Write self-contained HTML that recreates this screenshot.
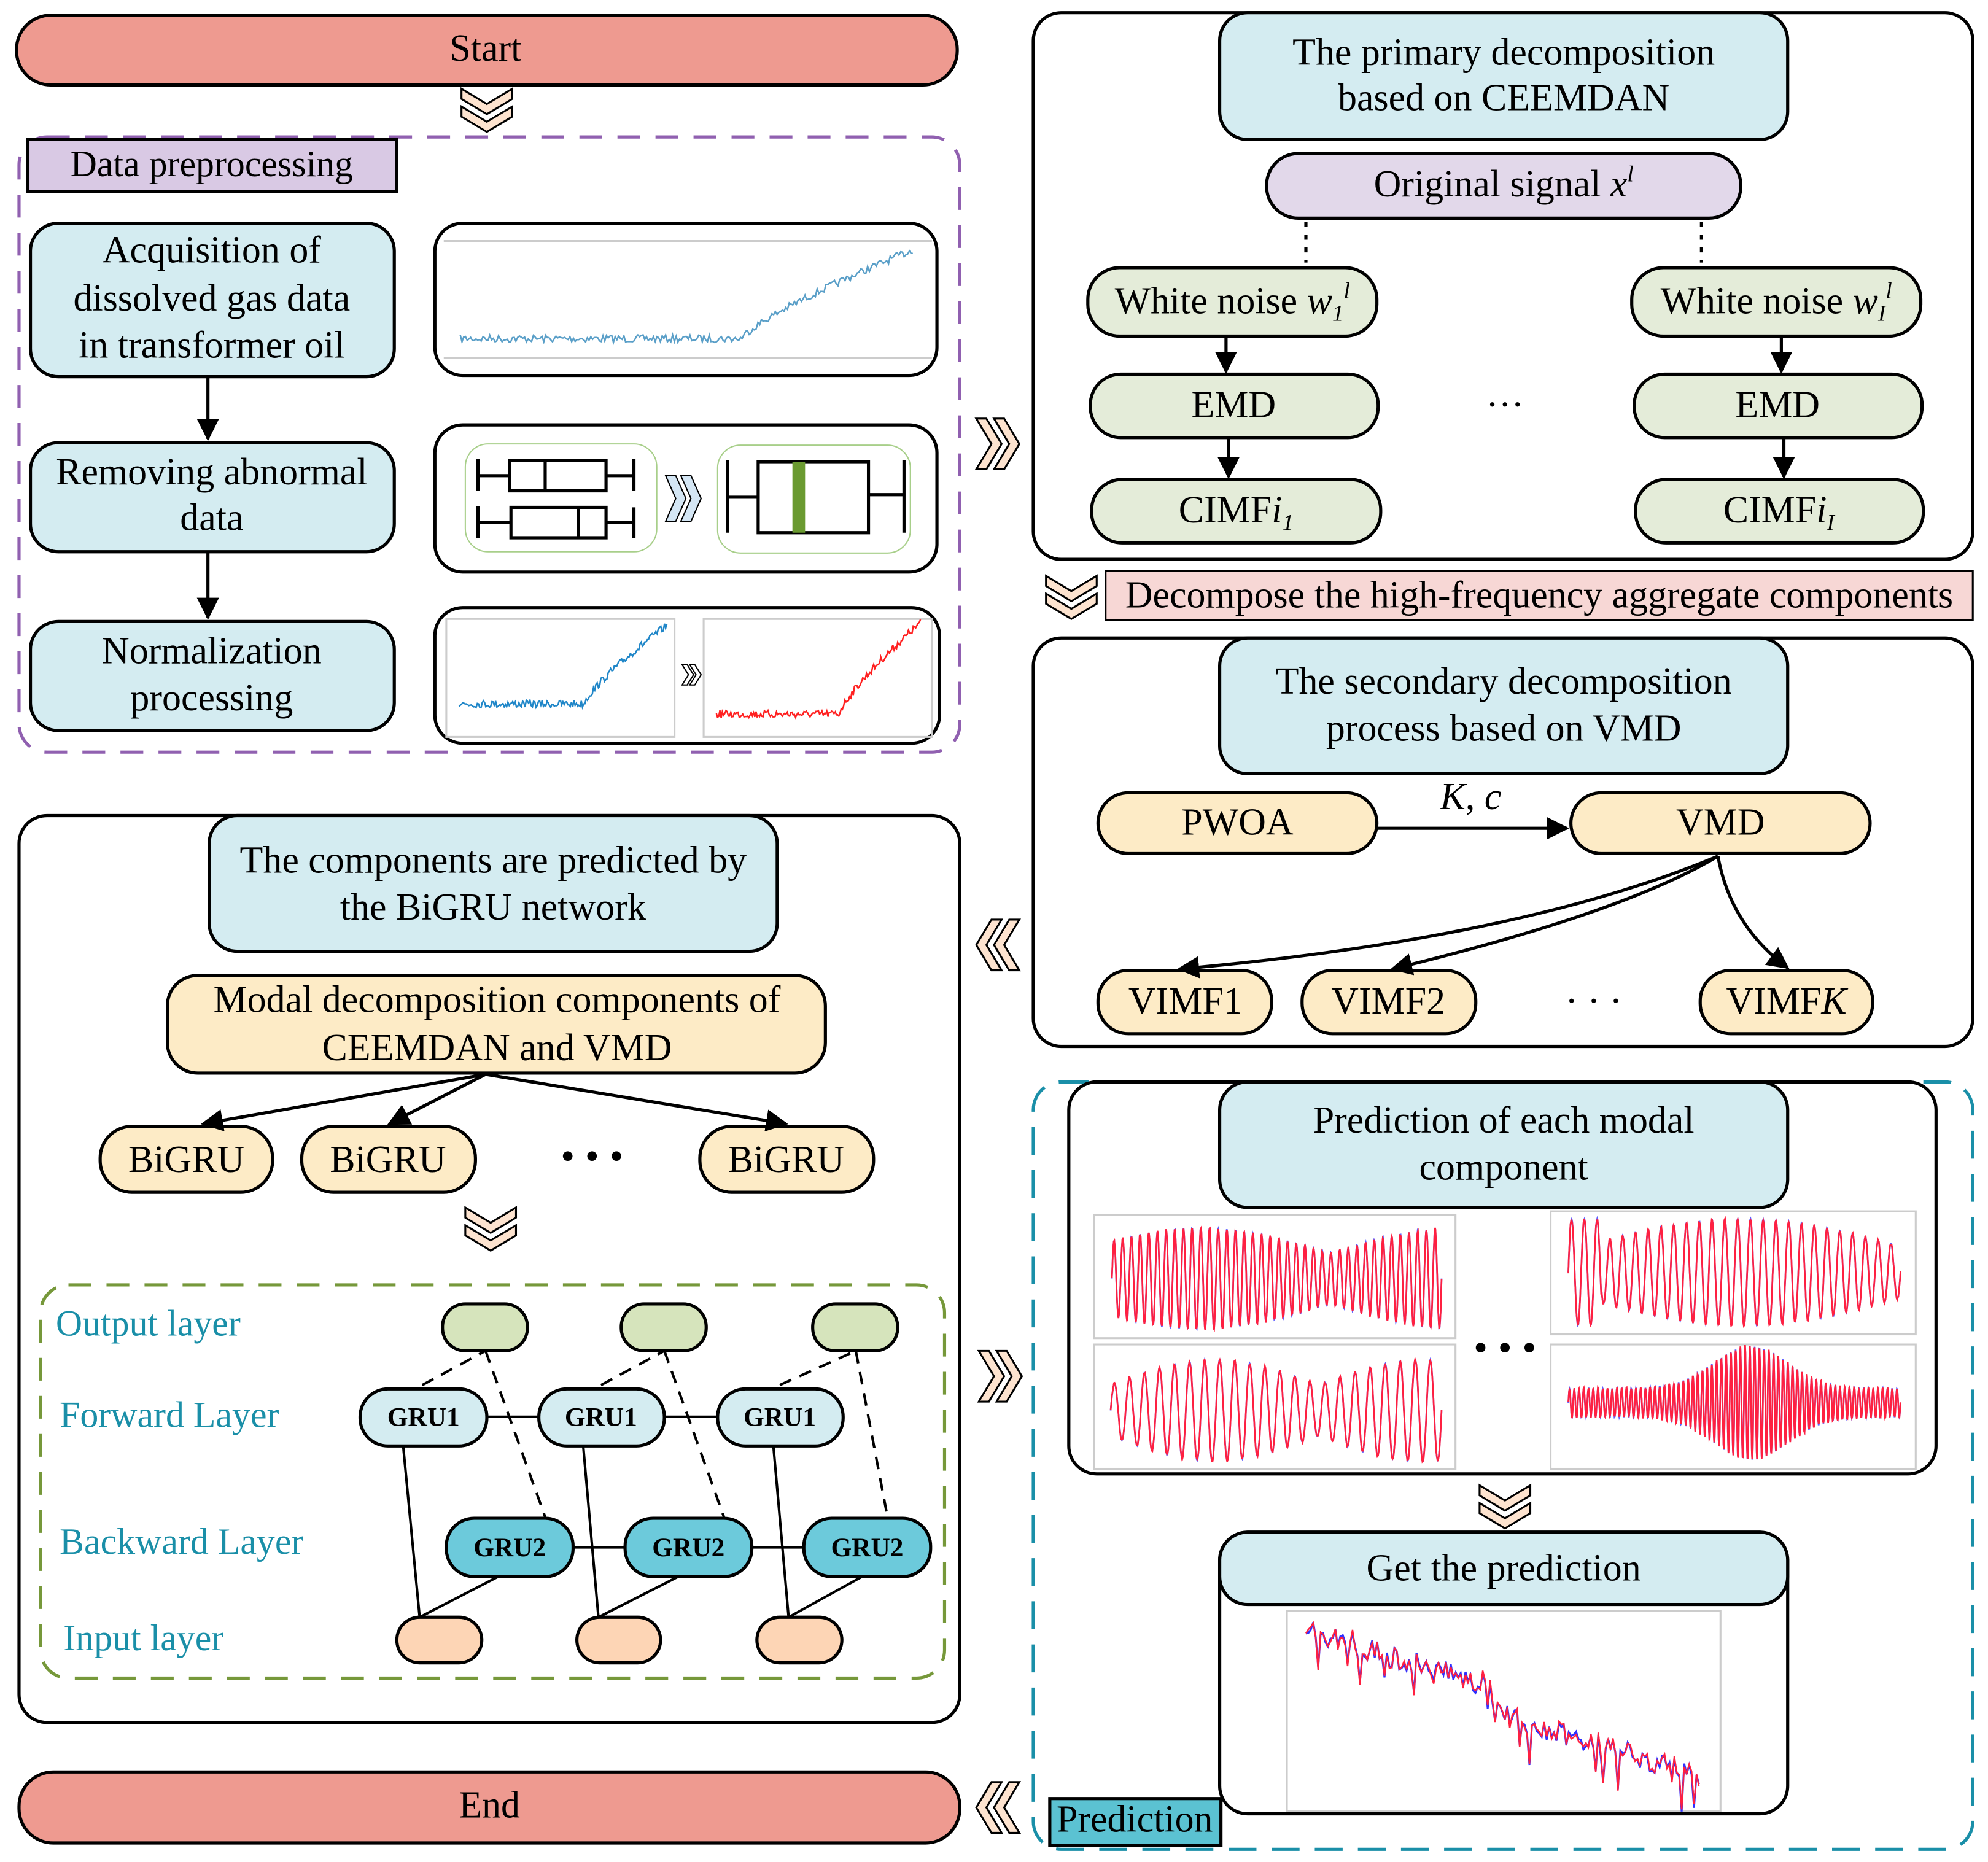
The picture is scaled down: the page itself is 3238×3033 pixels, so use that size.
<!DOCTYPE html>
<html><head><meta charset="utf-8">
<style>
html,body{margin:0;padding:0;background:#fff;}
svg{display:block;}
text{font-family:"Liberation Serif",serif;}
.t{fill:#000;}
.tl{fill:#1a8fa8;}
</style></head>
<body>
<svg id="s" width="3238" height="3033" viewBox="0 0 1568 1468" preserveAspectRatio="none" xmlns="http://www.w3.org/2000/svg">
<defs>
<marker id="ah" viewBox="0 0 10 10" refX="9" refY="5" markerWidth="7" markerHeight="7" orient="auto"><path d="M0,0 L10,5 L0,10 z" fill="#000"/></marker>
<g id="chev"><path d="M-20,-16 L0,-4 L20,-16 L20,-8 L0,4 L-20,-8 z M-20,-2 L0,10 L20,-2 L20,6 L0,18 L-20,6 z" fill="#fde3cf" stroke="#000" stroke-width="1.5"/></g>
<g id="chevR"><path d="M-16,-20 L-4,0 L-16,20 L-8,20 L4,0 L-8,-20 z M-2,-20 L10,0 L-2,20 L6,20 L18,0 L6,-20 z" fill="#fde3cf" stroke="#000" stroke-width="1.5"/></g>
</defs>
<g stroke="#000" stroke-width="2.5">
<rect x="13" y="12" width="742" height="55" rx="27" fill="#ee9a90"/>
<rect x="15" y="108" width="742" height="485" rx="22" fill="none" stroke="#9060b0" stroke-dasharray="18,12"/>
<rect x="22" y="110" width="291" height="41" fill="#d9c9e4"/>
<rect x="24" y="176" width="287" height="121" rx="22" fill="#d4ecf1"/>
<rect x="343" y="176" width="396" height="120" rx="22" fill="#fff"/>
<rect x="24" y="349" width="287" height="86" rx="22" fill="#d4ecf1"/>
<rect x="343" y="335" width="396" height="116" rx="22" fill="#fff"/>
<rect x="24" y="490" width="287" height="86" rx="22" fill="#d4ecf1"/>
<rect x="343" y="479" width="398" height="107" rx="22" fill="#fff"/>
<rect x="815" y="10" width="741" height="431" rx="22" fill="#fff"/>
<rect x="962" y="10" width="448" height="100" rx="22" fill="#d4ecf1"/>
<rect x="999" y="121" width="374" height="51" rx="25" fill="#e2d8ea"/>
<rect x="858" y="211" width="228" height="54" rx="25" fill="#e4ecd9"/>
<rect x="1287" y="211" width="228" height="54" rx="25" fill="#e4ecd9"/>
<rect x="860" y="295" width="227" height="50" rx="24" fill="#e4ecd9"/>
<rect x="1289" y="295" width="227" height="50" rx="24" fill="#e4ecd9"/>
<rect x="861" y="378" width="228" height="50" rx="24" fill="#e4ecd9"/>
<rect x="1290" y="378" width="227" height="50" rx="24" fill="#e4ecd9"/>
<rect x="872" y="450" width="684" height="39" fill="#f7d7d5" stroke-width="1.5"/>
<rect x="815" y="503" width="741" height="322" rx="22" fill="#fff"/>
<rect x="962" y="503" width="448" height="107" rx="22" fill="#d4ecf1"/>
<rect x="866" y="625" width="220" height="48" rx="24" fill="#fdebc6"/>
<rect x="1239" y="625" width="236" height="48" rx="24" fill="#fdebc6"/>
<rect x="866" y="765" width="137" height="50" rx="24" fill="#fdebc6"/>
<rect x="1027" y="765" width="137" height="50" rx="24" fill="#fdebc6"/>
<rect x="1341" y="765" width="136" height="50" rx="24" fill="#fdebc6"/>
<rect x="15" y="643" width="742" height="715" rx="22" fill="#fff"/>
<rect x="165" y="643" width="448" height="107" rx="22" fill="#d4ecf1"/>
<rect x="132" y="769" width="519" height="77" rx="24" fill="#fdebc6"/>
<rect x="79" y="888" width="136" height="52" rx="25" fill="#fdebc6"/>
<rect x="238" y="888" width="137" height="52" rx="25" fill="#fdebc6"/>
<rect x="552" y="888" width="137" height="52" rx="25" fill="#fdebc6"/>
<rect x="32" y="1013" width="713" height="310" rx="22" fill="none" stroke="#76983a" stroke-dasharray="18,12"/>
<rect x="815" y="853" width="741" height="605" rx="22" fill="none" stroke="#1a8fa8" stroke-dasharray="22,12"/>
<rect x="843" y="853" width="684" height="309" rx="22" fill="#fff"/>
<rect x="962" y="853" width="448" height="99" rx="22" fill="#d4ecf1"/>
<rect x="962" y="1208" width="448" height="222" rx="22" fill="#fff"/>
<rect x="962" y="1208" width="448" height="57" rx="22" fill="#d4ecf1"/>
<rect x="828" y="1418" width="135" height="37" fill="#5bc2d2"/>
<rect x="15" y="1397" width="742" height="56" rx="27" fill="#ee9a90"/>
</g>
<g stroke="#000" stroke-width="2.5" fill="none">
<line x1="164" y1="297" x2="164" y2="346" marker-end="url(#ah)"/>
<line x1="164" y1="435" x2="164" y2="487" marker-end="url(#ah)"/>
<line x1="1030" y1="175" x2="1030" y2="207" stroke-dasharray="4,6"/>
<line x1="1342" y1="175" x2="1342" y2="207" stroke-dasharray="4,6"/>
<line x1="967" y1="265" x2="967" y2="293" marker-end="url(#ah)"/>
<line x1="1405" y1="265" x2="1405" y2="293" marker-end="url(#ah)"/>
<line x1="969" y1="345" x2="969" y2="376" marker-end="url(#ah)"/>
<line x1="1407" y1="345" x2="1407" y2="376" marker-end="url(#ah)"/>
<line x1="1086" y1="653" x2="1236" y2="653" marker-end="url(#ah)"/>
<path d="M1355,675 Q1200,740 930,764" marker-end="url(#ah)"/>
<path d="M1355,675 Q1280,720 1098,764" marker-end="url(#ah)"/>
<path d="M1355,675 Q1365,730 1410,763" marker-end="url(#ah)"/>
<line x1="383" y1="847" x2="160" y2="886" marker-end="url(#ah)"/>
<line x1="383" y1="847" x2="307" y2="886" marker-end="url(#ah)"/>
<line x1="383" y1="847" x2="620" y2="886" marker-end="url(#ah)"/>
</g>
<use href="#chev" x="384" y="86"/>
<use href="#chev" x="845" y="470"/>
<use href="#chev" x="387" y="968"/>
<use href="#chev" x="1187" y="1187"/>
<use href="#chevR" x="786" y="350"/>
<use href="#chevR" x="788" y="1085"/>
<g transform="translate(788,745) scale(-1,1)"><use href="#chevR"/></g>
<g transform="translate(788,1425) scale(-1,1)"><use href="#chevR"/></g>
<g stroke="#000" stroke-width="2.5" fill="none">
<rect x="367" y="350" width="151" height="85" rx="18" stroke="#a8cf8a" stroke-width="1"/>
<rect x="566" y="351" width="152" height="85" rx="18" stroke="#a8cf8a" stroke-width="1"/>
<path d="M377,362 V387 M377,375 H402 M402,363 H478 V387 H402 z M430,363 V387 M478,375 H500 M500,362 V387"/>
<path d="M377,399 V424 M377,412 H403 M403,400 H478 V424 H403 z M456,400 V424 M478,412 H500 M500,400 V424"/>
<path d="M574,363 V420 M574,392 H598 M598,364 H685 V420 H598 z M685,390 H713 M713,363 V420"/>
</g>
<rect x="625" y="364" width="10" height="56" fill="#6a9a30"/>
<path d="M525,375 L533,393 L525,411 L533,411 L541,393 L533,375 z M537,375 L545,393 L537,411 L545,411 L553,393 L545,375 z" fill="#d4e6f4" stroke="#000" stroke-width="1"/>
<path d="M538,524 L543,532 L538,540 L542,540 L547,532 L542,524 z M544,524 L549,532 L544,540 L548,540 L553,532 L548,524 z" fill="#fff" stroke="#000" stroke-width="1"/>
<g stroke="#ccc" stroke-width="1.5" fill="none">
<line x1="350" y1="190" x2="735" y2="190"/><line x1="350" y1="282" x2="735" y2="282"/>
<rect x="352" y="488" width="180" height="93"/><rect x="555" y="488" width="180" height="93"/>
<rect x="863" y="958" width="285" height="97"/><rect x="1223" y="955" width="288" height="97"/>
<rect x="863" y="1060" width="285" height="98"/><rect x="1223" y="1060" width="288" height="98"/>
<rect x="1015" y="1270" width="342" height="158"/>
</g>
<g id="plots" fill="none" stroke-width="1.3"></g>
<g stroke="#000" stroke-width="2" fill="none">
<g stroke-dasharray="10,7">
<line x1="333" y1="1092" x2="383" y2="1065"/><line x1="383" y1="1065" x2="430" y2="1196"/>
<line x1="474" y1="1092" x2="524" y2="1065"/><line x1="524" y1="1065" x2="571" y2="1196"/>
<line x1="615" y1="1092" x2="675" y2="1065"/><line x1="675" y1="1065" x2="700" y2="1196"/>
</g>
<line x1="384" y1="1117" x2="425" y2="1117"/><line x1="524" y1="1117" x2="566" y2="1117"/>
<line x1="452" y1="1220" x2="493" y2="1220"/><line x1="593" y1="1220" x2="634" y2="1220"/>
<line x1="318" y1="1140" x2="331" y2="1275"/><line x1="393" y1="1243" x2="331" y2="1275"/>
<line x1="460" y1="1140" x2="472" y2="1275"/><line x1="535" y1="1243" x2="472" y2="1275"/>
<line x1="610" y1="1140" x2="622" y2="1275"/><line x1="680" y1="1243" x2="622" y2="1275"/>
</g>
<g stroke="#000" stroke-width="2.5">
<rect x="349" y="1028" width="67" height="37" rx="18" fill="#d6e4bc"/>
<rect x="490" y="1028" width="67" height="37" rx="18" fill="#d6e4bc"/>
<rect x="641" y="1028" width="67" height="37" rx="18" fill="#d6e4bc"/>
<rect x="284" y="1095" width="100" height="45" rx="22" fill="#d4ecf1"/>
<rect x="425" y="1095" width="99" height="45" rx="22" fill="#d4ecf1"/>
<rect x="566" y="1095" width="99" height="45" rx="22" fill="#d4ecf1"/>
<rect x="352" y="1197" width="100" height="46" rx="22" fill="#6ccadb"/>
<rect x="493" y="1197" width="100" height="46" rx="22" fill="#6ccadb"/>
<rect x="634" y="1197" width="100" height="46" rx="22" fill="#6ccadb"/>
<rect x="313" y="1275" width="67" height="36" rx="18" fill="#fdd5b5"/>
<rect x="455" y="1275" width="66" height="36" rx="18" fill="#fdd5b5"/>
<rect x="597" y="1275" width="67" height="36" rx="18" fill="#fdd5b5"/>
</g>
<g font-size="30" text-anchor="middle" class="t">
<text class="t" x="383" y="48">Start</text>
<text class="t" x="167" y="139" font-size="29">Data preprocessing</text>
<text class="t" x="167" y="207">Acquisition of</text>
<text class="t" x="167" y="245">dissolved gas data</text>
<text class="t" x="167" y="282">in transformer oil</text>
<text class="t" x="167" y="382">Removing abnormal</text>
<text class="t" x="167" y="418">data</text>
<text class="t" x="167" y="523">Normalization</text>
<text class="t" x="167" y="560">processing</text>
<text class="t" x="1186" y="51">The primary decomposition</text>
<text class="t" x="1186" y="87">based on CEEMDAN</text>
<text class="t" x="1186" y="155">Original signal <tspan font-style="italic">x</tspan><tspan font-size="18" dy="-12" font-style="italic">l</tspan></text>
<text class="t" x="972" y="247">White noise <tspan font-style="italic">w</tspan><tspan font-size="18" dy="6" font-style="italic">1</tspan><tspan font-size="18" dy="-18" font-style="italic">l</tspan></text>
<text class="t" x="1401" y="247">White noise <tspan font-style="italic">w</tspan><tspan font-size="18" dy="6" font-style="italic">I</tspan><tspan font-size="18" dy="-18" font-style="italic">l</tspan></text>
<text class="t" x="973" y="329">EMD</text>
<text class="t" x="1402" y="329">EMD</text>
<text class="t" x="1187" y="329">···</text>
<text class="t" x="975" y="412">CIMF<tspan font-style="italic">i</tspan><tspan font-size="18" dy="6" font-style="italic">1</tspan></text>
<text class="t" x="1403" y="412">CIMF<tspan font-style="italic">i</tspan><tspan font-size="18" dy="6" font-style="italic">I</tspan></text>
<text class="t" x="1214" y="479">Decompose the high-frequency aggregate components</text>
<text class="t" x="1186" y="547">The secondary  decomposition</text>
<text class="t" x="1186" y="584">process based on VMD</text>
<text class="t" x="976" y="658">PWOA</text>
<text class="t" x="1357" y="658">VMD</text>
<text class="t" x="1160" y="638" font-style="italic">K<tspan font-style="normal">, </tspan>c</text>
<text class="t" x="935" y="799">VIMF1</text>
<text class="t" x="1095" y="799">VIMF2</text>
<text class="t" x="1409" y="799">VIMF<tspan font-style="italic">K</tspan></text>
<text class="t" x="1257" y="799">·  ·  ·</text>
<text class="t" x="389" y="688">The components are predicted by</text>
<text class="t" x="389" y="725">the BiGRU network</text>
<text class="t" x="392" y="798">Modal decomposition components of</text>
<text class="t" x="392" y="836">CEEMDAN and VMD</text>
<text class="t" x="147" y="924">BiGRU</text>
<text class="t" x="306" y="924">BiGRU</text>
<text class="t" x="620" y="924">BiGRU</text>
<text class="t" x="467" y="922" font-size="32">• • •</text>
<text class="t" x="1186" y="893">Prediction of each modal</text>
<text class="t" x="1186" y="930">component</text>
<text class="t" x="1187" y="1073" font-size="32">• • •</text>
<text class="t" x="1186" y="1246">Get the prediction</text>
<text class="t" x="895" y="1444">Prediction</text>
<text class="t" x="386" y="1433">End</text>
<g font-weight="bold" font-size="21">
<text class="t" x="334" y="1124">GRU1</text><text class="t" x="474" y="1124">GRU1</text><text class="t" x="615" y="1124">GRU1</text>
<text class="t" x="402" y="1227">GRU2</text><text class="t" x="543" y="1227">GRU2</text><text class="t" x="684" y="1227">GRU2</text>
</g>
</g>
<g font-size="29">
<text class="tl" x="44" y="1053">Output layer</text>
<text class="tl" x="47" y="1125">Forward Layer</text>
<text class="tl" x="47" y="1225">Backward Layer</text>
<text class="tl" x="50" y="1301">Input layer</text>
</g>
</svg>
<script>
(function(){
var seed=7;function r(){seed=(seed*16807)%2147483647;return seed/2147483647;}
var g=document.getElementById('plots');
function pl(pts,col,w){var p=document.createElementNS('http://www.w3.org/2000/svg','polyline');p.setAttribute('points',pts.map(function(a){return a[0].toFixed(1)+','+a[1].toFixed(1)}).join(' '));p.setAttribute('stroke',col);p.setAttribute('stroke-width',w||1.2);p.setAttribute('fill','none');g.appendChild(p);}
function trend(x0,x1,yb,rise,knee,n,col,noise){var a=[];for(var i=0;i<=n;i++){var t=i/n;var y=yb;if(t>knee)y-=rise*Math.pow((t-knee)/(1-knee),0.8);y+=(r()-0.5)*noise;a.push([x0+(x1-x0)*t,y]);}pl(a,col);}
trend(363,720,267,70,0.62,260,'#5a9fc8',6);
trend(362,526,555,62,0.6,170,'#1f86c8',6);
trend(565,726,563,72,0.6,170,'#ff2020',6);
function wave(x0,x1,yc,amp,freq,env,n){var a=[],b=[];for(var i=0;i<=n;i++){var t=i/n;var e=env(t);var y=yc-amp*e*Math.sin(t*freq*Math.PI*2);a.push([x0+(x1-x0)*t,y]);b.push([x0+(x1-x0)*t,y+(r()-0.5)*2]);}pl(a,'#6060ff',1.3);pl(b,'#ff2040',1.3);}
wave(877,1137,1008,40,38,function(t){return 0.5+0.5*Math.abs(Math.sin(t*4+0.5))},700);
wave(1237,1499,1003,42,26,function(t){return t<0.1?1:0.4+0.6*Math.abs(Math.sin(t*3))},600);
wave(876,1137,1112,40,22,function(t){return 0.5+0.5*Math.abs(Math.sin(t*5))},500);
wave(1237,1499,1106,45,70,function(t){var d=(t-0.55);return 0.25+0.75*Math.exp(-d*d*40)},900);
var a=[],b=[];for(var i=0;i<=160;i++){var t=i/160;var base=1285+t*95+(t>0.47?20:0);var v=base+(r()-0.5)*18+(r()<0.08?25:0);a.push([1030+310*t,v]);b.push([1030+310*t,v+(r()-0.5)*6]);}
pl(a,'#3030ff',1.5);pl(b,'#ff2040',1.2);
})();
</script>
</body></html>
